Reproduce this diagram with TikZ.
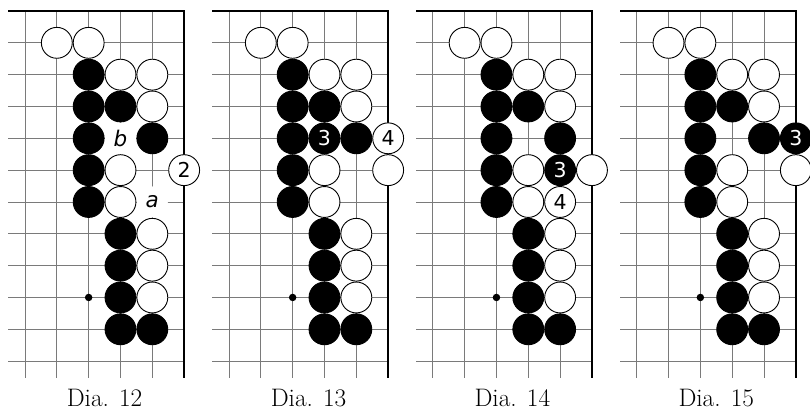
\documentclass[tikz,border=0pt]{standalone}
\usepackage{fontspec}
\newfontfamily\lblfont{DejaVu Sans}
\tikzset{
  gridline/.style={draw=black!52, line width=0.9pt},
  edgeline/.style={draw=black, line width=2.4pt, line join=miter},
  wstone/.style={circle, draw=black, line width=0.9pt, fill=white, minimum size=30.9pt, inner sep=0pt,
    font=\lblfont\fontsize{20.5}{20}\selectfont},
  bstone/.style={circle, draw=black, line width=0.9pt, fill=black, text=white, minimum size=30.9pt, inner sep=0pt,
    font=\lblfont\fontsize{20.5}{20}\selectfont},
  ptlabel/.style={circle, fill=white, minimum size=31pt, inner sep=0pt,
    font=\lblfont\itshape\fontsize{21.5}{20}\selectfont},
  hoshi/.style={circle, fill=black, minimum size=7.5pt, inner sep=0pt},
  diacap/.style={font=\fontsize{25.3}{30}\selectfont, anchor=base, inner sep=0pt, text depth=0pt}
}
\newcommand\gogrid{%
  \foreach \r in {1,...,11} {\draw[gridline] (-0.525,\r) -- (5,\r);}
  \foreach \c in {0,...,4} {\draw[gridline] (\c,0) -- (\c,11.53);}
  \draw[edgeline] (-0.525,0) -- (5,0) -- (5,11.53);
}
\newcommand\gostones[1]{%
  \foreach \c/\r in {1/1,2/1,3/2,4/2,4/3,3/5,3/6,4/7,4/8,4/9}
    {\node[wstone] (#1w\c\r) at (\c,\r) {};}
  \foreach \c/\r in {2/2,2/3,3/3,2/4,4/4,2/5,2/6,3/7,3/8,3/9,3/10,4/10}
    {\node[bstone] (#1b\c\r) at (\c,\r) {};}
  \node[hoshi] (#1hoshi) at (2,9) {};
}
\begin{document}
\begin{tikzpicture}[x=1pt,y=-1pt]
\useasboundingbox (0,0) rectangle (810,411);
% Dia. 12
\begin{scope}[shift={(25,11)}, x=31.83pt, y=-31.83pt]
  \gogrid
  \gostones{A}
  \node[wstone] (Aw55) at (5,5) {2};
  \node[ptlabel] (Alb) at (3,4) {b};
  \node[ptlabel] (Ala) at (4,6) {a};
  \node[diacap] (Acap) at (2.5,12.42) {Dia. 12};
\end{scope}
% Dia. 13
\begin{scope}[shift={(229,11)}, x=31.83pt, y=-31.83pt]
  \gogrid
  \gostones{B}
  \node[bstone] (Bb34) at (3,4) {3};
  \node[wstone] (Bw54) at (5,4) {4};
  \node[wstone] (Bw55) at (5,5) {};
  \node[diacap] (Bcap) at (2.5,12.42) {Dia. 13};
\end{scope}
% Dia. 14
\begin{scope}[shift={(432.8,11)}, x=31.83pt, y=-31.83pt]
  \gogrid
  \gostones{C}
  \node[bstone] (Cb45) at (4,5) {3};
  \node[wstone] (Cw46) at (4,6) {4};
  \node[wstone] (Cw55) at (5,5) {};
  \node[diacap] (Ccap) at (2.5,12.42) {Dia. 14};
\end{scope}
% Dia. 15
\begin{scope}[shift={(636.7,11)}, x=31.83pt, y=-31.83pt]
  \gogrid
  \gostones{D}
  \node[bstone] (Db54) at (5,4) {3};
  \node[wstone] (Dw55) at (5,5) {};
  \node[diacap] (Dcap) at (2.5,12.42) {Dia. 15};
\end{scope}
\end{tikzpicture}
\end{document}
